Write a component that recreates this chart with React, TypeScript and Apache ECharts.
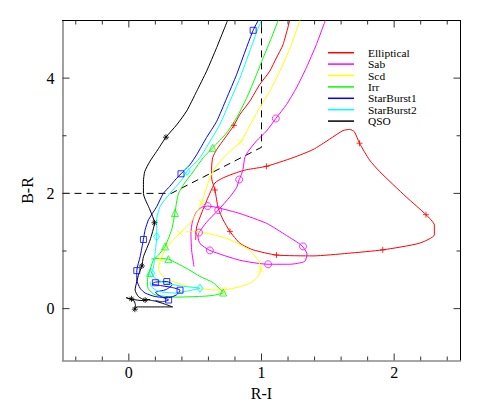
import React, { useEffect, useRef } from 'react';
import * as echarts from 'echarts';

const X_MIN = -0.5;
const X_MAX = 2.5;
const Y_MIN = -0.9;
const Y_MAX = 5;

const seriesNames = ['Elliptical', 'Sab', 'Scd', 'Irr', 'StarBurst1', 'StarBurst2', 'QSO'];
const seriesColors = ['#ff0000', '#ff00ff', '#ffff00', '#00ff00', '#0000ff', '#00ffff', '#000000'];

const elliptical = [
  [0.504, 1.19], [0.511, 1.42], [0.549, 1.66], [0.599, 1.94], [0.649, 2.18], [0.711, 2.27], [0.812, 2.36],
  [0.887, 2.41], [1.037, 2.47], [1.238, 2.62], [1.388, 2.76], [1.513, 2.94], [1.614, 3.09], [1.665, 3.11],
  [1.70, 3.07], [1.739, 2.87], [1.814, 2.58], [1.89, 2.38], [2.09, 1.94], [2.24, 1.63], [2.303, 1.45],
  [2.303, 1.28], [2.19, 1.135], [1.914, 1.02], [1.65, 0.96], [1.388, 0.915], [1.113, 0.93], [0.937, 1.02],
  [0.837, 1.135], [0.762, 1.34], [0.711, 1.54], [0.674, 1.74], [0.649, 2.06], [0.625, 2.25], [0.624, 2.44],
  [0.632, 2.62], [0.662, 2.76], [0.724, 2.96], [0.792, 3.18], [0.837, 3.37], [0.912, 3.6], [0.987, 3.89],
  [1.062, 4.12], [1.112, 4.35], [1.162, 4.58], [1.213, 5.0],
];
const sab = [
  [0.491, 0.73], [0.474, 1.0], [0.468, 1.3], [0.48, 1.52], [0.51, 1.68], [0.55, 1.76], [0.594, 1.78],
  [0.674, 1.75], [0.837, 1.65], [1.038, 1.48], [1.188, 1.27], [1.3, 1.1], [1.343, 0.95], [1.326, 0.82],
  [1.213, 0.77], [1.05, 0.77], [0.837, 0.84], [0.611, 1.01], [0.536, 1.13], [0.521, 1.25], [0.529, 1.32],
  [0.586, 1.5], [0.674, 1.71], [0.762, 1.94], [0.812, 2.1], [0.832, 2.24], [0.849, 2.33], [0.862, 2.44],
  [0.874, 2.62], [0.9, 2.73], [0.962, 2.91], [1.037, 3.08], [1.108, 3.3], [1.188, 3.54], [1.263, 3.83],
  [1.338, 4.18], [1.413, 4.58], [1.481, 5.0],
];
const scd = [
  [1.288, 5.0], [1.225, 4.58], [1.162, 4.24], [1.112, 4.0], [1.062, 3.77], [0.987, 3.49], [0.912, 3.18],
  [0.842, 2.89], [0.762, 2.73], [0.699, 2.58], [0.649, 2.44], [0.611, 2.27], [0.586, 2.1], [0.565, 1.95],
  [0.549, 1.84], [0.51, 1.66], [0.46, 1.48], [0.386, 1.31], [0.323, 1.17], [0.273, 1.02], [0.24, 0.85],
  [0.223, 0.7], [0.24, 0.6], [0.298, 0.5], [0.461, 0.38], [0.6, 0.33], [0.711, 0.325], [0.82, 0.37],
  [0.912, 0.44], [0.975, 0.56], [0.995, 0.68], [0.975, 0.845], [0.887, 1.05], [0.737, 1.22], [0.586, 1.31],
  [0.486, 1.34], [0.43, 1.33],
];
const irr = [
  [1.125, 5.0], [1.075, 4.7], [1.012, 4.35], [0.962, 4.06], [0.887, 3.65], [0.812, 3.31], [0.737, 3.05],
  [0.632, 2.79], [0.561, 2.62], [0.486, 2.38], [0.411, 2.15], [0.375, 2.0], [0.36, 1.85], [0.348, 1.66],
  [0.335, 1.5], [0.323, 1.37], [0.295, 1.2], [0.273, 1.08], [0.223, 0.93], [0.185, 0.845], [0.16, 0.67],
  [0.14, 0.5], [0.145, 0.35], [0.198, 0.24], [0.35, 0.2], [0.523, 0.21], [0.637, 0.23], [0.711, 0.28],
  [0.69, 0.33], [0.636, 0.45], [0.536, 0.56], [0.45, 0.68], [0.36, 0.79], [0.298, 0.858], [0.2, 0.87],
  [0.17, 0.86],
];
const starBurst1 = [
  [0.975, 5.0], [0.937, 4.83], [0.887, 4.53], [0.812, 4.06], [0.737, 3.65], [0.662, 3.25], [0.586, 2.97],
  [0.511, 2.67], [0.461, 2.5], [0.393, 2.34], [0.348, 2.23], [0.31, 2.125], [0.26, 2.0], [0.21, 1.77],
  [0.148, 1.54], [0.123, 1.37], [0.11, 1.2], [0.085, 0.9], [0.06, 0.66], [0.06, 0.5], [0.085, 0.354],
  [0.123, 0.27], [0.198, 0.21], [0.3, 0.19], [0.36, 0.24], [0.386, 0.32], [0.32, 0.37], [0.24, 0.4],
  [0.175, 0.43], [0.2, 0.46], [0.286, 0.47], [0.33, 0.42], [0.28, 0.33], [0.2, 0.28], [0.25, 0.2],
  [0.3, 0.15], [0.25, 0.12], [0.2, 0.14],
];
const starBurst2 = [
  [1.0, 5.0], [0.967, 4.82], [0.912, 4.47], [0.837, 4.0], [0.762, 3.6], [0.687, 3.2], [0.611, 2.9],
  [0.536, 2.62], [0.44, 2.385], [0.398, 2.23], [0.31, 2.0], [0.235, 1.77], [0.21, 1.54], [0.21, 1.25],
  [0.198, 0.96], [0.185, 0.7], [0.173, 0.62], [0.2, 0.52], [0.27, 0.45], [0.398, 0.39], [0.536, 0.354],
  [0.45, 0.31], [0.348, 0.27], [0.223, 0.3], [0.17, 0.38], [0.16, 0.47],
];
const qso = [
  [0.744, 5.0], [0.662, 4.53], [0.586, 4.12], [0.511, 3.77], [0.436, 3.43], [0.361, 3.19], [0.28, 2.975],
  [0.21, 2.73], [0.16, 2.56], [0.12, 2.38], [0.11, 2.2], [0.11, 2.0], [0.16, 1.71], [0.193, 1.49],
  [0.16, 1.19], [0.11, 0.9], [0.098, 0.74], [0.075, 0.6], [0.06, 0.47], [0.047, 0.325], [0.072, 0.21],
  [0.123, 0.15], [0.16, 0.16], [0.1, 0.14], [0.03, 0.16], [-0.02, 0.19], [0.04, 0.13], [0.05, 0.05],
  [0.045, -0.01], [0.06, 0.03], [0.33, 0.03], [0.27, 0.08], [0.2, 0.13], [0.15, 0.15],
];
const tracks = [elliptical, sab, scd, irr, starBurst1, starBurst2, qso];

const ellipticalMarks = [[0.792, 3.18], [0.649, 2.06], [0.762, 1.34], [1.113, 0.93], [1.914, 1.02], [2.24, 1.63], [1.739, 2.87], [1.037, 2.47]];
const sabMarks = [[1.108, 3.3], [0.832, 2.24], [0.594, 1.78], [0.674, 1.71], [0.529, 1.32], [0.611, 1.01], [1.05, 0.77], [1.313, 1.08]];
const scdMarks = [[0.842, 2.89], [0.549, 1.84], [0.386, 1.31], [0.235, 0.86], [0.995, 0.68], [0.711, 0.325]];
const irrMarks = [[0.632, 2.79], [0.348, 1.66], [0.273, 1.08], [0.298, 0.858], [0.711, 0.28], [0.16, 0.62]];
const starBurst1Marks = [[0.937, 4.83], [0.393, 2.34], [0.11, 1.2], [0.06, 0.66], [0.2, 0.45], [0.286, 0.47], [0.386, 0.32], [0.3, 0.15]];
const starBurst2Marks = [[0.44, 2.385], [0.21, 1.25], [0.536, 0.354], [0.173, 0.62]];
const qsoMarks = [[0.28, 2.975], [0.193, 1.49], [0.098, 0.74], [0.123, 0.15], [0.02, 0.17], [0.045, -0.01]];
const marks = [ellipticalMarks, sabMarks, scdMarks, irrMarks, starBurst1Marks, starBurst2Marks, qsoMarks];

const cutLine = [[-0.5, 2.0], [0.32, 2.0], [1.0, 2.8], [1.0, 5.0]];

const xTicksMajor = [0, 1, 2];
const xTicksMinor = [-0.4, -0.2, 0.2, 0.4, 0.6, 0.8, 1.2, 1.4, 1.6, 1.8, 2.2, 2.4];
const yTicksMajor = [0, 2, 4];
const yTicksMinor = [1, 3];

const FONT = 'Liberation Serif';

const markerSymbols = [
  'path://M0,5L10,5M5,0L5,10',
  'circle',
  'path://M0,0L10,10M10,0L0,10',
  'triangle',
  'rect',
  'diamond',
  'path://M5,0L5,10M0,5L10,5M1.5,1.5L8.5,8.5M8.5,1.5L1.5,8.5',
];
const markerSizes: any[] = [6, 7, 6, 7, 6, [6, 8], 6];

function isInt(v: number) {
  return Math.abs(v - Math.round(v)) < 1e-6;
}

export default function App() {
  const ref = useRef<HTMLDivElement>(null);
  useEffect(() => {
    document.body.style.margin = '0';
    const chart = echarts.init(ref.current!, null, { renderer: 'svg' });

    const lineSeries = tracks.map((d, i) => ({
      name: seriesNames[i],
      type: 'line',
      data: d,
      showSymbol: false,
      symbol: 'none',
      smooth: 0.2,
      silent: true,
      itemStyle: { color: seriesColors[i] },
      lineStyle: { color: seriesColors[i], width: 1 },
      z: 3,
    }));
    const markSeries = marks.map((d, i) => ({
      name: seriesNames[i] + ' points',
      type: 'scatter',
      data: d,
      symbol: markerSymbols[i],
      symbolSize: markerSizes[i],
      silent: true,
      itemStyle: { color: 'none', borderColor: seriesColors[i], borderWidth: 1 },
      z: 4,
    }));

    const tickStyle = { stroke: '#333', lineWidth: 1 };
    const xTickData = [
      ...xTicksMajor.map((v) => [v, 1]),
      ...xTicksMinor.map((v) => [v, 0]),
    ];
    const yTickData = [
      ...yTicksMajor.map((v) => [1, v]),
      ...yTicksMinor.map((v) => [0, v]),
    ];

    const option: any = {
      animation: false,
      backgroundColor: '#fff',
      grid: { left: 62.5, top: 20.5, width: 398, height: 340, containLabel: false, outerBoundsMode: 'none' },
      legend: {
        data: seriesNames.map((n) => ({ name: n, icon: 'rect' })),
        orient: 'vertical',
        left: 328,
        top: 47,
        padding: 0,
        itemWidth: 26,
        itemHeight: 1.5,
        itemGap: 0,
        selectedMode: false,
        textStyle: { fontFamily: FONT, fontSize: 11.4, color: '#000', lineHeight: 11.4, padding: [0, 0, 0, 9] },
      },
      xAxis: [
        {
          type: 'value', min: X_MIN, max: X_MAX, interval: 0.5, position: 'bottom',
          axisLine: { show: true, onZero: false, lineStyle: { color: '#8a8a8a', width: 1.6 } },
          axisTick: { show: false }, splitLine: { show: false },
          axisLabel: { formatter: (v: number) => (isInt(v) ? String(Math.round(v)) : ''), margin: 4, fontFamily: FONT, fontSize: 16, color: '#000' },
          name: 'R-I', nameLocation: 'middle', nameGap: 18,
          nameTextStyle: { fontFamily: FONT, fontSize: 16, color: '#000' },
        },
        {
          type: 'value', min: X_MIN, max: X_MAX, position: 'top',
          axisLine: { show: true, onZero: false, lineStyle: { color: '#000', width: 1 } },
          axisTick: { show: false }, axisLabel: { show: false }, splitLine: { show: false },
        },
      ],
      yAxis: [
        {
          type: 'value', min: Y_MIN, max: Y_MAX, interval: 0.1, position: 'left',
          axisLine: { show: true, onZero: false, lineStyle: { color: '#8a8a8a', width: 1.6 } },
          axisTick: { show: false }, splitLine: { show: false },
          axisLabel: {
            formatter: (v: number) => (isInt(v) && Math.round(v) % 2 === 0 ? String(Math.round(v)) : ''),
            margin: 8, fontFamily: FONT, fontSize: 16, color: '#000',
          },
          name: 'B-R', nameLocation: 'middle', nameGap: 22, nameRotate: 90,
          nameTextStyle: { fontFamily: FONT, fontSize: 16, color: '#000' },
        },
        {
          type: 'value', min: Y_MIN, max: Y_MAX, position: 'right',
          axisLine: { show: true, onZero: false, lineStyle: { color: '#000', width: 1 } },
          axisTick: { show: false }, axisLabel: { show: false }, splitLine: { show: false },
        },
      ],
      series: [
        {
          name: 'cut',
          type: 'line',
          data: cutLine,
          showSymbol: false,
          symbol: 'none',
          silent: true,
          lineStyle: { color: '#000', width: 1, type: [7, 5] },
          z: 2,
        },
        ...lineSeries,
        ...markSeries,
        {
          name: 'xticks',
          type: 'custom',
          silent: true,
          clip: false,
          data: xTickData,
          z: 5,
          renderItem: (params: any, api: any) => {
            const v = api.value(0);
            const len = api.value(1) === 1 ? 7 : 4;
            const b = api.coord([v, Y_MIN]);
            const t = api.coord([v, Y_MAX]);
            return {
              type: 'group',
              children: [
                { type: 'line', shape: { x1: b[0], y1: b[1], x2: b[0], y2: b[1] - len }, style: tickStyle },
                { type: 'line', shape: { x1: t[0], y1: t[1], x2: t[0], y2: t[1] + len }, style: tickStyle },
              ],
            };
          },
        },
        {
          name: 'yticks',
          type: 'custom',
          silent: true,
          clip: false,
          data: yTickData,
          z: 5,
          renderItem: (params: any, api: any) => {
            const v = api.value(1);
            const len = api.value(0) === 1 ? 7 : 4;
            const l = api.coord([X_MIN, v]);
            const r = api.coord([X_MAX, v]);
            return {
              type: 'group',
              children: [
                { type: 'line', shape: { x1: l[0], y1: l[1], x2: l[0] + len, y2: l[1] }, style: tickStyle },
                { type: 'line', shape: { x1: r[0], y1: r[1], x2: r[0] - len, y2: r[1] }, style: tickStyle },
              ],
            };
          },
        },
      ],
    };
    chart.setOption(option);
    return () => chart.dispose();
  }, []);
  return <div ref={ref} style={{ width: 485, height: 415 }} />;
}
